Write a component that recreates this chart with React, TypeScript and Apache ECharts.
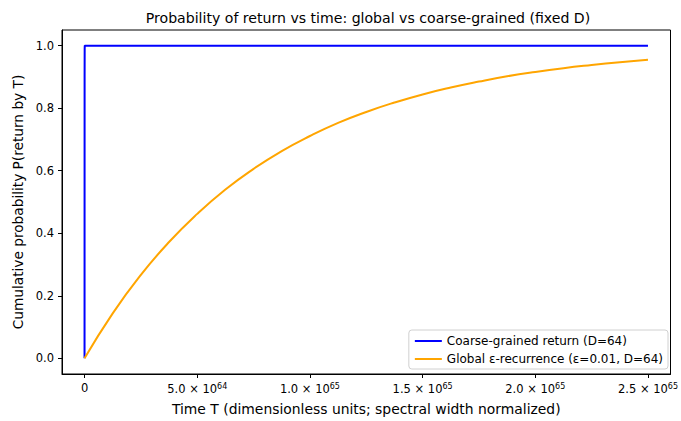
import React, { useEffect, useRef } from "react";
import * as echarts from "echarts";

const titleText = "Probability of return vs time: global vs coarse-grained (fixed D)";
const xName = "Time T (dimensionless units; spectral width normalized)";
const yName = "Cumulative probability P(return by T)";
const seriesNames = ["Coarse-grained return (D=64)", "Global ε-recurrence (ε=0.01, D=64)"];

const xTicks = [0, 5e64, 1e65, 1.5e65, 2e65, 2.5e65];
const yTicks = [0, 0.2, 0.4, 0.6, 0.8, 1.0];

const coarseT = [0, 3e61, 6e61, 1e62, 2.5e65];
const coarseP = [0, 0.9, 0.99, 1.0, 1.0];

const globalT = [
  0, 1.25e64, 2.5e64, 3.75e64, 5e64, 6.25e64, 7.5e64, 8.75e64, 1e65, 1.125e65, 1.25e65,
  1.375e65, 1.5e65, 1.625e65, 1.75e65, 1.875e65, 2e65, 2.125e65, 2.25e65, 2.375e65, 2.5e65,
];
const globalP = [
  0, 0.144, 0.267, 0.372, 0.462, 0.54, 0.606, 0.663, 0.711, 0.753, 0.788,
  0.818, 0.844, 0.866, 0.885, 0.902, 0.916, 0.928, 0.938, 0.947, 0.955,
];

function fmtX(v: number): string {
  if (v === 0) return "0";
  const e = Math.floor(Math.log10(Math.abs(v)) + 1e-9);
  const m = v / Math.pow(10, e);
  return `${m.toFixed(1)} × 10{sup|${e}}`;
}

export default function App() {
  const ref = useRef<HTMLDivElement>(null);
  useEffect(() => {
    if (!ref.current) return;
    const chart = echarts.init(ref.current, undefined, { renderer: "svg" });
    const font = "DejaVu Sans";
    chart.setOption({
      animation: false,
      backgroundColor: "#fff",
      textStyle: { fontFamily: font },
      graphic: [
        {
          type: "text",
          x: 368,
          y: 18,
          style: {
            text: titleText,
            fontFamily: font,
            fontSize: 14.1,
            fill: "#000",
            align: "center",
            verticalAlign: "middle",
          },
        },
      ],
      grid: {
        left: 62,
        right: 7,
        top: 30,
        bottom: 47,
        show: true,
        borderColor: "#000",
        borderWidth: 1,
        backgroundColor: "transparent",
      },
      legend: {
        orient: "vertical",
        right: 13,
        bottom: 52,
        data: seriesNames,
        icon: "rect",
        itemWidth: 27,
        itemHeight: 2,
        itemGap: 6,
        backgroundColor: "#fff",
        borderColor: "#d0d0d0",
        borderWidth: 1,
        borderRadius: 3,
        padding: [5, 5, 4, 6],
        textStyle: { fontFamily: font, fontSize: 12, color: "#000" },
      },
      xAxis: {
        type: "value",
        min: -1e64,
        max: 2.6e65,
        name: xName,
        nameLocation: "middle",
        nameGap: 28,
        nameTextStyle: { fontFamily: font, fontSize: 13.9, color: "#000" },
        splitLine: { show: false },
        axisLine: { show: true, onZero: false, lineStyle: { color: "#000", width: 1 } },
        axisTick: { show: true, inside: false, length: 4, customValues: xTicks, lineStyle: { color: "#000" } },
        axisLabel: {
          customValues: xTicks,
          formatter: fmtX,
          color: "#000",
          fontFamily: font,
          fontSize: 11.5,
          margin: 8,
          rich: {
            sup: { fontSize: 8, fontFamily: font, color: "#000", verticalAlign: "top", padding: [0, 0, 6, 0] },
          },
        },
      },
      yAxis: {
        type: "value",
        min: -0.05,
        max: 1.05,
        name: yName,
        nameLocation: "middle",
        nameGap: 32,
        nameTextStyle: { fontFamily: font, fontSize: 13.7, color: "#000" },
        splitLine: { show: false },
        axisLine: { show: true, onZero: false, lineStyle: { color: "#000", width: 1 } },
        axisTick: { show: true, inside: false, length: 4, customValues: yTicks, lineStyle: { color: "#000" } },
        axisLabel: {
          customValues: yTicks,
          formatter: (v: number) => v.toFixed(1),
          color: "#000",
          fontFamily: font,
          fontSize: 11.5,
          margin: 8,
        },
      },
      series: [
        {
          name: seriesNames[0],
          type: "line",
          data: coarseT.map((t, i) => [t, coarseP[i]]),
          showSymbol: false,
          symbol: "none",
          lineStyle: { color: "#0000ff", width: 2 },
          itemStyle: { color: "#0000ff" },
        },
        {
          name: seriesNames[1],
          type: "line",
          data: globalT.map((t, i) => [t, globalP[i]]),
          showSymbol: false,
          symbol: "none",
          smooth: true,
          lineStyle: { color: "#ffa500", width: 2 },
          itemStyle: { color: "#ffa500" },
        },
      ],
    });
    return () => chart.dispose();
  }, []);
  return <div ref={ref} style={{ width: 681, height: 421, position: "absolute", left: 0, top: 0 }} />;
}
